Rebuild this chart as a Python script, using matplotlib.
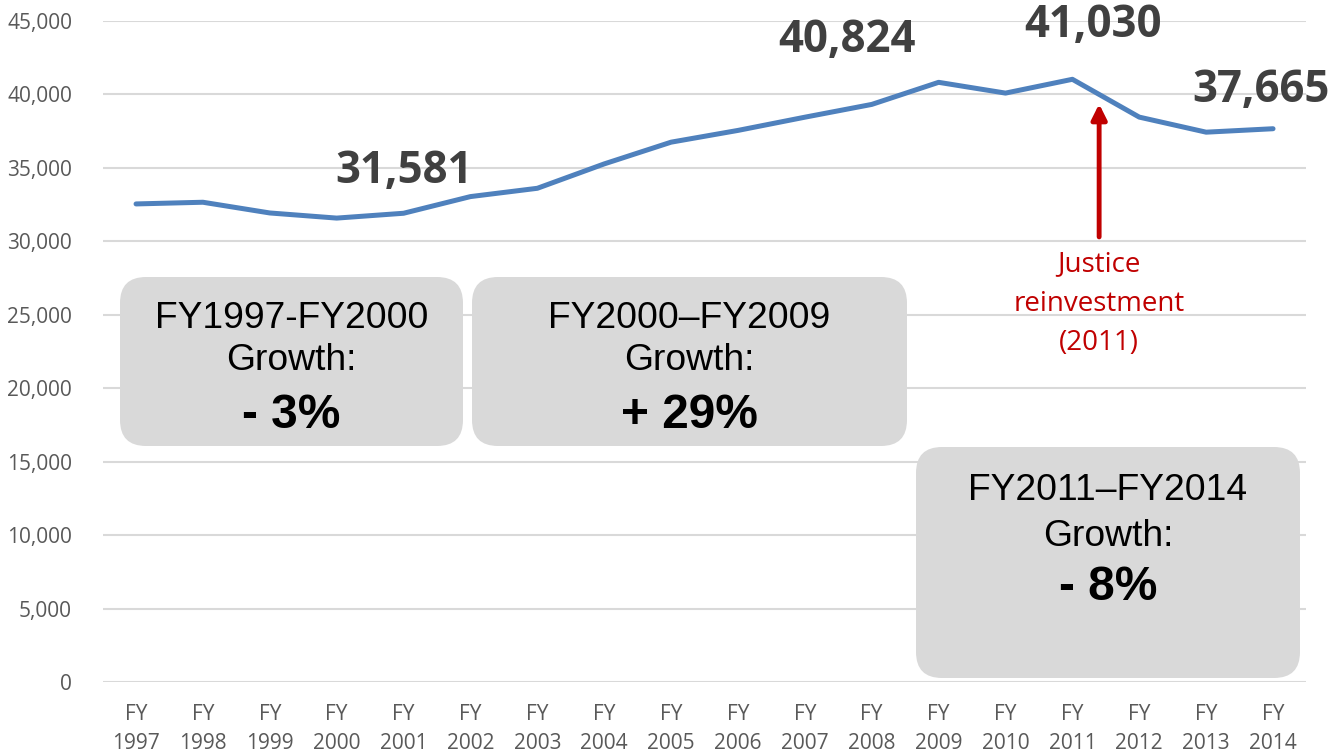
import matplotlib.pyplot as plt
from matplotlib.patches import FancyBboxPatch
from matplotlib.ticker import FuncFormatter

# values
years = list(range(1997, 2015))
population = [32545, 32660, 31930, 31581, 31910, 33045, 33610, 35270, 36750,
              37550, 38450, 39320, 40824, 40090, 41030, 38455, 37430, 37665]
tick_labels = ["FY\n%d" % y for y in years]

callouts = ["31,581", "40,824", "41,030", "37,665"]
callout_pos = [(4.0, 34720), (10.63, 43700), (14.31, 44700), (16.82, 40300)]

periods = ["FY1997-FY2000", "FY2000\u2013FY2009", "FY2011\u2013FY2014"]
growth = ["- 3%", "+ 29%", "- 8%"]

LINE = "#4F81BD"
GRID = "#D9D9D9"
RED = "#C00000"

fig = plt.figure(figsize=(13.43, 7.52), dpi=100)
ax = fig.add_axes([0.0764, 0.0931, 0.8964, 0.879])

x = list(range(len(years)))
ax.plot(x, population, color=LINE, lw=3.6, solid_capstyle="round", zorder=3)

ax.set_xlim(-0.5, len(years) - 0.5)
ax.set_ylim(0, 45000)
ax.set_yticks(range(0, 45001, 5000))
ax.yaxis.set_major_formatter(FuncFormatter(lambda v, p: f"{int(v):,}"))
ax.set_xticks(x)
ax.set_xticklabels(tick_labels, linespacing=1.5)
ax.grid(axis="y", color=GRID, lw=1.5)
ax.set_axisbelow(True)
for s in ax.spines.values():
    s.set_visible(False)
ax.tick_params(axis="y", length=0, pad=22, labelsize=15, labelcolor="#595959")
ax.tick_params(axis="x", length=0, pad=16, labelsize=15, labelcolor="#595959")
for lab in ax.get_xticklabels() + ax.get_yticklabels():
    lab.set_fontfamily("Open Sans")

# big value callouts
for txt, (px, py) in zip(callouts, callout_pos):
    ax.text(px, py, txt, ha="center", va="center", fontsize=31.5,
            fontweight="bold", color="#404040", family="Open Sans")

# justice reinvestment arrow
ax.annotate("", xy=(14.4, 39350), xytext=(14.4, 30300),
            arrowprops=dict(arrowstyle="-|>,head_width=0.45,head_length=0.9",
                            color=RED, lw=3.5, shrinkA=0, shrinkB=0))
ax.text(14.4, 25750, "Justice\nreinvestment\n(2011)", ha="center", va="center",
        fontsize=20, color=RED, family="Open Sans", linespacing=1.55)

# growth boxes (figure inches so corners stay round)
boxes = [(1.20, 3.06, 3.43, 1.69), (4.72, 3.06, 4.35, 1.69), (9.16, 0.74, 3.84, 2.31)]
line_y = [(4.34, 3.91, 3.37), (4.34, 3.91, 3.37), (2.61, 2.15, 1.65)]
for (bx, by, bw, bh), ly, per, g in zip(boxes, line_y, periods, growth):
    fig.patches.append(FancyBboxPatch((bx, by), bw, bh,
                                      boxstyle="round,pad=0,rounding_size=0.26",
                                      transform=fig.dpi_scale_trans,
                                      fc="#D9D9D9", ec="none", zorder=5))
    cx = bx + bw / 2
    fig.text(cx, ly[0], per, transform=fig.dpi_scale_trans, ha="center", va="center",
             fontsize=26.8, family="Liberation Sans", zorder=6)
    fig.text(cx, ly[1], "Growth:", transform=fig.dpi_scale_trans, ha="center",
             va="center", fontsize=26.8, family="Liberation Sans", zorder=6)
    fig.text(cx, ly[2], g, transform=fig.dpi_scale_trans, ha="center", va="center",
             fontsize=34.5, fontweight="bold", family="Liberation Sans", zorder=6)

fig.savefig("out.png", dpi=100)
